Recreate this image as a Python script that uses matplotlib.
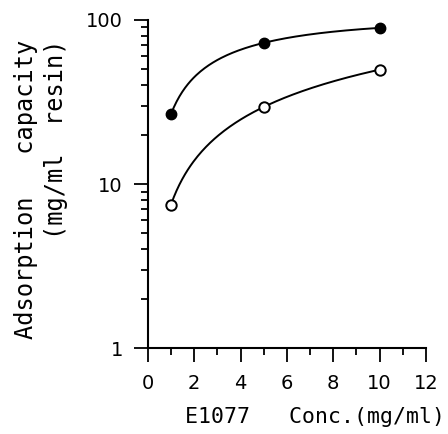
import numpy as np
import matplotlib.pyplot as plt
from matplotlib.ticker import FixedLocator, LogLocator, NullFormatter

# data
conc = [1, 5, 10]
filled = [26.7, 72.5, 89.5]
opened = [7.5, 29.5, 49.8]

plt.rcParams['font.family'] = ['DejaVu Sans']

fig = plt.figure(figsize=(4.48, 4.34), dpi=100)
ax = fig.add_axes([0.330, 0.198, 0.621, 0.756])
ax.set_yscale('log')
ax.set_xlim(0, 12)
ax.set_ylim(1, 100)


def smooth(x, y, n=150):
    # smooth saturating curve through the points (quadratic in log-log space)
    lx = np.log10(x)
    c = np.polyfit(lx, np.log10(y), 2)
    xs = np.linspace(x[0], x[-1], n)
    return xs, 10 ** np.polyval(c, np.log10(xs))


xs, ys = smooth(conc, filled)
ax.plot(xs, ys, color='black', lw=1.4)
xs, ys = smooth(conc, opened)
ax.plot(xs, ys, color='black', lw=1.4)

ax.plot(conc, filled, 'o', color='black', ms=7.5, clip_on=False)
ax.plot(conc, opened, 'o', mfc='white', mec='black', mew=1.4, ms=7.5, clip_on=False)

ax.spines['top'].set_visible(False)
ax.spines['right'].set_visible(False)
ax.spines['left'].set_linewidth(1.5)
ax.spines['bottom'].set_linewidth(1.5)

ax.xaxis.set_major_locator(FixedLocator([0, 2, 4, 6, 8, 10, 12]))
ax.xaxis.set_minor_locator(FixedLocator([1, 3, 5, 7, 9, 11]))
ax.set_yticks([1, 10, 100])
ax.set_yticklabels(['1', '10', '100'])
ax.yaxis.set_minor_locator(LogLocator(subs=np.arange(2, 10)))
ax.yaxis.set_minor_formatter(NullFormatter())

ax.tick_params(axis='both', which='major', length=10, width=1.3, labelsize=14)
ax.tick_params(axis='both', which='minor', length=5, width=1.3)
ax.tick_params(axis='y', which='major', pad=8)
ax.tick_params(axis='x', which='major', pad=9)

mono = 'DejaVu Sans Mono'
fig.text(0.413, 0.015, 'E1077   Conc.(mg/ml)', fontsize=15.5, family=mono,
         ha='left', va='bottom')
fig.text(0.057, 0.908, 'Adsorption   capacity', fontsize=17, family=mono,
         rotation=90, ha='center', va='top')
fig.text(0.125, 0.908, '(mg/ml  resin)', fontsize=17, family=mono,
         rotation=90, ha='center', va='top')

fig.savefig('out.png', dpi=100)
